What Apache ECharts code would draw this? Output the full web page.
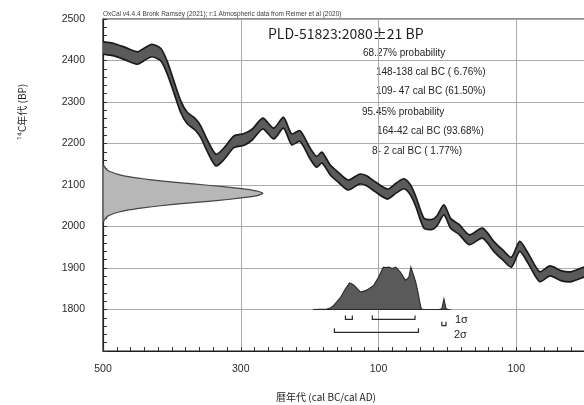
<!DOCTYPE html>
<html>
<head>
<meta charset="utf-8">
<script src="https://cdn.jsdelivr.net/npm/echarts@6/dist/echarts.min.js"></script>
<style>
  html, body { margin: 0; padding: 0; background: #ffffff; }
  #chart { width: 584px; height: 405px; }
</style>
</head>
<body>
<div id="chart"></div>
<script>
// x values on the axis are counted in years from 500 BC
const YEAR0 = -500;

// Calibration curve section (negative = BC, positive = AD), 14C age and 1-sigma half width
const curveYear = [-510, -499, -484, -467, -450, -441, -429, -416, -407, -397, -387, -378, -366, -358,
  -349, -336, -324, -310, -295, -283, -268, -252, -238, -226, -214, -200, -190, -182, -170, -158,
  -144, -128, -118, -105, -87, -74, -63, -54, -46, -34, -22, -15, -5, 5, 17, 32, 51, 68, 80, 93,
  105, 117, 134, 149, 166, 180, 200, 215];
const curveBP = [2434, 2430, 2426, 2416, 2406, 2414, 2424, 2414, 2384, 2336, 2288, 2262, 2246, 2228,
  2196, 2160, 2176, 2204, 2210, 2222, 2248, 2224, 2250, 2210, 2218, 2178, 2156, 2166, 2136, 2118,
  2100, 2114, 2111, 2096, 2078, 2093, 2103, 2089, 2061, 2008, 2005, 2014, 2040, 2007, 1993, 1968, 1984, 1951, 1932, 1914,
  1952, 1924, 1879, 1893, 1881, 1879, 1891, 1893];
const curveErr = [15, 15, 15, 15, 15, 15, 15, 15, 15, 14, 14, 14, 14, 14,
  14, 14, 14, 14, 14, 13, 13, 13, 13, 13, 13, 13, 13, 13, 12, 12,
  12, 12, 12, 12, 12, 12, 12, 12, 12, 12, 12, 12, 12, 12, 12, 12, 12, 12, 12, 12,
  12, 12, 12, 12, 12, 12, 12, 12];

// Measured radiocarbon age: relative density by 14C age
const dateBP = [2150, 2145, 2140, 2135, 2130, 2125, 2120, 2115, 2110, 2105, 2100, 2095, 2090, 2085,
  2080, 2075, 2070, 2065, 2060, 2055, 2050, 2045, 2040, 2035, 2030, 2025, 2020, 2015, 2010];
const dateDensity = [0.0, 0.008, 0.017, 0.03, 0.06, 0.10, 0.16, 0.25, 0.36, 0.49, 0.64, 0.78, 0.89, 0.97,
  1.0, 0.97, 0.89, 0.78, 0.64, 0.49, 0.36, 0.25, 0.16, 0.10, 0.06, 0.03, 0.017, 0.008, 0.0];

// Calibrated date: relative probability by calendar year
const calYear = [-195, -175, -170, -165, -160, -155, -148, -142, -137, -133, -126, -120, -116, -107,
  -100, -93, -89, -85, -80, -75, -68, -61, -56, -53, -50, -46, -42, -40, -38, -35,
  -12, -8, -5, -2, 2];
const calDensity = [0.0, 0.01, 0.035, 0.095, 0.19, 0.29, 0.49, 0.63, 0.59, 0.53, 0.41, 0.44, 0.47, 0.57,
  0.76, 1.0, 0.99, 1.0, 0.97, 1.0, 0.88, 0.69, 0.76, 1.0, 0.85, 0.65, 0.35, 0.17, 0.02, 0.0,
  0.0, 0.02, 0.25, 0.02, 0.0];

// Calibrated ranges
const oneSigmaRanges = [[-148, -138], [-109, -47]];
const twoSigmaRanges = [[-164, -42], [-8, -2]];

// Tick labels
const xTickYears = [-500, -300, -100, 100];
const yTickBP = [1800, 1900, 2000, 2100, 2200, 2300, 2400, 2500];

const FONT = "'Liberation Sans', 'Noto Sans CJK JP', sans-serif";
const JP = "'Noto Sans CJK JP', 'Liberation Sans', sans-serif";

const chart = echarts.init(document.getElementById('chart'), null, { renderer: 'canvas' });

function x(year) { return year - YEAR0; }

// band of the calibration curve (mean +/- error)
const curveSeries = {
  type: 'custom', coordinateSystem: 'cartesian2d', clip: true, silent: true, z: 3,
  data: [[0, 2000]],
  renderItem(params, api) {
    const up = curveYear.map((yr, i) => api.coord([x(yr), curveBP[i] + curveErr[i]]));
    const lo = curveYear.map((yr, i) => api.coord([x(yr), curveBP[i] - curveErr[i]])).reverse();
    return {
      type: 'polygon',
      shape: { points: up.concat(lo), smooth: 0.25 },
      style: { fill: '#5a5a5a', stroke: '#1a1a1a', lineWidth: 1.7 }
    };
  }
};

// radiocarbon age density along the left edge
const DATE_SPAN = 232; // calendar-axis years at the density peak
const dateSeries = {
  type: 'custom', coordinateSystem: 'cartesian2d', clip: true, silent: true, z: 2,
  data: [[0, 2000]],
  renderItem(params, api) {
    const pts = dateBP.map((bp, i) => api.coord([dateDensity[i] * DATE_SPAN, bp]));
    pts.push(api.coord([0, dateBP[dateBP.length - 1]]));
    pts.push(api.coord([0, dateBP[0]]));
    return {
      type: 'polygon',
      shape: { points: pts, smooth: 0.2 },
      style: { fill: '#b7b7b7', stroke: '#444', lineWidth: 1.2 }
    };
  }
};

// calibrated probability above the 1800 BP baseline
const CAL_BASE = 1800, CAL_SPAN = 102;
const calSeries = {
  type: 'custom', coordinateSystem: 'cartesian2d', clip: true, silent: true, z: 2,
  data: [[0, 2000]],
  renderItem(params, api) {
    const pts = calYear.map((yr, i) => api.coord([x(yr), CAL_BASE + calDensity[i] * CAL_SPAN]));
    return {
      type: 'polygon',
      shape: { points: pts },
      style: { fill: '#5a5a5a', stroke: '#2a2a2a', lineWidth: 1.1 }
    };
  }
};

// range brackets under the baseline
function bracketSeries(ranges, levelBP) {
  return {
    type: 'custom', coordinateSystem: 'cartesian2d', clip: false, silent: true, z: 4,
    data: ranges.map((r, i) => [x(r[0]), x(r[1]), levelBP[i]]),
    renderItem(params, api) {
      const a = api.coord([api.value(0), api.value(2)]);
      const b = api.coord([api.value(1), api.value(2)]);
      return {
        type: 'polyline',
        shape: { points: [[a[0], a[1] - 4], a, b, [b[0], b[1] - 4]] },
        style: { fill: null, stroke: '#2a2a2a', lineWidth: 1.2 }
      };
    }
  };
}

function text(t, px, py, size, opts) {
  return Object.assign({
    type: 'text', x: px, y: py, silent: true,
    style: Object.assign({ text: t, font: size + 'px ' + FONT, fill: '#1e1e1e', align: 'left', verticalAlign: 'middle' }, (opts && opts.style) || {})
  }, (opts && opts.el) || {});
}

const option = {
  animation: false,
  backgroundColor: '#ffffff',
  grid: {
    left: 103, top: 19, width: 551, height: 332, outerBoundsMode: 'none', containLabel: false,
    show: true, borderColor: '#1e1e1e', borderWidth: 1.2, backgroundColor: 'transparent'
  },
  xAxis: {
    type: 'value', min: 0, max: 800, interval: 200,
    axisLine: { show: true, lineStyle: { color: '#1e1e1e', width: 1.2 } },
    axisTick: { show: true, inside: true, length: 4, lineStyle: { color: '#333' } },
    minorTick: { show: true, splitNumber: 10, length: 4, lineStyle: { color: '#333' } },
    splitLine: { show: true, lineStyle: { color: '#ababab', width: 1 } },
    axisLabel: {
      margin: 13, fontSize: 10.5, color: '#2a2a2a', fontFamily: FONT,
      formatter: v => xTickYears.includes(v + YEAR0) ? String(Math.abs(v + YEAR0)) : ''
    }
  },
  yAxis: {
    type: 'value', min: 1700, max: 2500, interval: 100,
    axisLine: { show: true, lineStyle: { color: '#1e1e1e', width: 1.2 } },
    axisTick: { show: true, inside: true, length: 4, lineStyle: { color: '#333' } },
    minorTick: { show: true, splitNumber: 5, length: 4, lineStyle: { color: '#333' } },
    splitLine: { show: true, lineStyle: { color: '#ababab', width: 1 } },
    axisLabel: {
      margin: 18, fontSize: 10.5, color: '#2a2a2a', fontFamily: FONT,
      formatter: v => yTickBP.includes(v) ? String(v) : ''
    }
  },
  series: [
    dateSeries,
    calSeries,
    curveSeries,
    bracketSeries(oneSigmaRanges, [1776, 1776]),
    bracketSeries(twoSigmaRanges, [1745, 1761])
  ],
  graphic: [
    text('OxCal v4.4.4 Bronk Ramsey (2021); r:1 Atmospheric data from Reimer et al (2020)', 103, 14.5, 6.5, { style: { fill: '#3a3a3a' } }),
    text('PLD-51823:2080\u00b121 BP', 268, 34, 14, { style: { font: '14px ' + JP } }),
    text('68.27% probability', 363, 53, 10),
    text('148-138 cal BC ( 6.76%)', 376, 72.5, 10),
    text('109- 47 cal BC (61.50%)', 376, 91.5, 10),
    text('95.45% probability', 362, 112, 10),
    text('164-42 cal BC (93.68%)', 377, 131, 10),
    text('8- 2 cal BC ( 1.77%)', 372, 151, 10),
    text('1\u03c3', 455, 320, 11),
    text('2\u03c3', 454, 335, 11),
    text('\u00b9\u2074C\u5e74\u4ee3 (BP)', 22, 112, 10, { style: { font: '10px ' + JP, align: 'center' }, el: { rotation: Math.PI / 2 } }),
    text('\u66a6\u5e74\u4ee3 (cal BC/cal AD)', 326, 397, 10, { style: { font: '10px ' + JP, align: 'center' } })
  ]
};

chart.setOption(option);
</script>
</body>
</html>
